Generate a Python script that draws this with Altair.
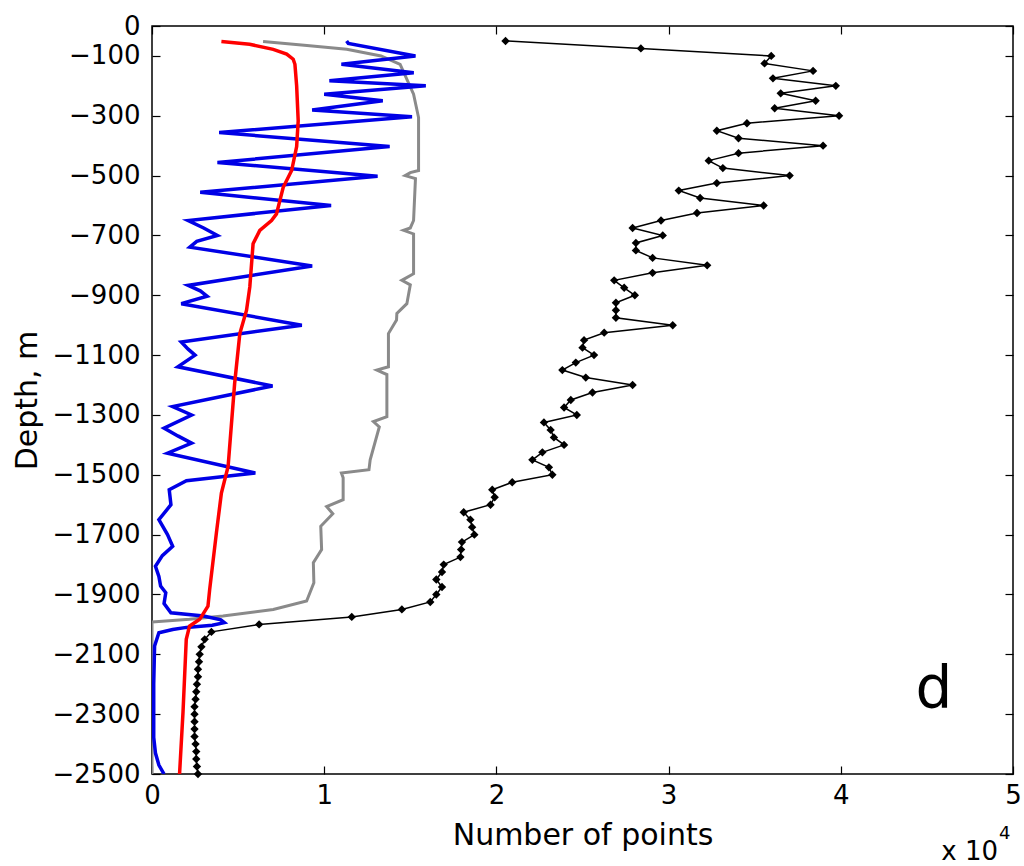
import altair as alt
import pandas as pd

# ---- data (depth in m, value in number of points) ----
black_depth = list(range(50, 2501, 25))
black_val = [2.053, 2.839, 3.596, 3.557, 3.839, 3.606, 3.971, 3.651, 3.854, 3.616,
             3.990, 3.455, 3.280, 3.406, 3.897, 3.406, 3.233, 3.315, 3.703, 3.280,
             3.059, 3.183, 3.552, 3.165, 2.956, 2.791, 2.966, 2.810, 2.810, 2.907,
             3.224, 2.907, 2.684, 2.742, 2.804, 2.694, 2.694, 2.694, 3.024, 2.626,
             2.509, 2.500, 2.567, 2.461, 2.383, 2.519, 2.791, 2.558, 2.432, 2.393,
             2.467, 2.276, 2.315, 2.334, 2.393, 2.267, 2.209, 2.305, 2.325, 2.092,
             1.976, 1.990, 1.966, 1.810, 1.849, 1.859, 1.872, 1.800, 1.795, 1.791,
             1.694, 1.684, 1.651, 1.684, 1.651, 1.616, 1.451, 1.160, 0.622, 0.345,
             0.306, 0.287, 0.277, 0.273, 0.267, 0.267, 0.261, 0.257, 0.253, 0.247,
             0.247, 0.247, 0.247, 0.247, 0.253, 0.257, 0.257, 0.261, 0.267]

gray_depth = [52, 65, 78, 100, 128, 228, 306, 483, 490, 500, 510, 650, 675, 683, 695,
              828, 850, 865, 928, 961, 983, 1028, 1139, 1150, 1165, 1306, 1322, 1340,
              1450, 1483, 1494, 1510, 1583, 1606, 1630, 1672, 1750, 1794, 1861, 1922,
              1950, 1972, 1983, 1992, 2500]
gray_val = [0.645, 0.90, 1.131, 1.33, 1.441, 1.519, 1.548, 1.548, 1.50, 1.47, 1.53,
            1.519, 1.50, 1.461, 1.519, 1.519, 1.451, 1.50, 1.48, 1.422, 1.42, 1.373,
            1.373, 1.306, 1.364, 1.364, 1.286, 1.32, 1.267, 1.26, 1.10, 1.11, 1.11,
            1.014, 1.05, 0.98, 0.985, 0.937, 0.94, 0.898, 0.704, 0.412, 0.218, 0.0, 0.0]

red_depth = [52, 61, 78, 94, 111, 128, 200, 317, 403, 483, 539, 628, 650, 683, 728,
             872, 950, 1028, 1194, 1472, 1561, 1694, 1883, 1939, 1983, 2006, 2050,
             2294, 2500]
red_val = [0.403, 0.567, 0.704, 0.782, 0.82, 0.830, 0.84, 0.849, 0.84, 0.811, 0.762,
           0.723, 0.694, 0.626, 0.587, 0.568, 0.549, 0.510, 0.480, 0.442, 0.403,
           0.374, 0.335, 0.325, 0.277, 0.218, 0.199, 0.180, 0.160]

blue_depth = [50, 58, 100, 128, 156, 183, 200, 228, 250, 281, 303, 356, 403, 456,
              502, 556, 600, 650, 675, 700, 720, 739, 802, 867, 885, 903, 928, 1000,
              1056, 1080, 1100, 1139, 1203, 1272, 1300, 1344, 1370, 1394, 1428, 1494,
              1520, 1550, 1600, 1650, 1700, 1739, 1770, 1806, 1840, 1872, 1894, 1930,
              1961, 1972, 1985, 1994, 2003, 2010, 2017, 2028, 2072, 2200, 2378, 2430,
              2470, 2500]
blue_val = [1.13, 1.14, 1.53, 1.10, 1.52, 1.03, 1.59, 1.00, 1.34, 0.93, 1.51, 0.39,
            1.38, 0.38, 1.31, 0.28, 1.04, 0.21, 0.30, 0.38, 0.26, 0.22, 0.93, 0.21,
            0.28, 0.32, 0.17, 0.87, 0.17, 0.21, 0.25, 0.15, 0.70, 0.12, 0.23, 0.07,
            0.15, 0.23, 0.09, 0.60, 0.20, 0.10, 0.11, 0.04, 0.09, 0.12, 0.06, 0.02,
            0.04, 0.05, 0.08, 0.07, 0.11, 0.30, 0.40, 0.42, 0.35, 0.20, 0.12, 0.04,
            0.015, 0.01, 0.01, 0.02, 0.04, 0.07]

x_ticks = [0, 10000, 20000, 30000, 40000, 50000]
y_ticks = [0, -100, -300, -500, -700, -900, -1100, -1300, -1500, -1700, -1900,
           -2100, -2300, -2500]

SCALE = 10000
FONT = "DejaVu Sans"


def frame(depth, val):
    return pd.DataFrame({"k": range(len(depth)),
                         "y": [-d for d in depth],
                         "x": [v * SCALE for v in val]})


xs = alt.Scale(domain=[0, 50000], nice=False, zero=False)
ys = alt.Scale(domain=[-2500, 0], nice=False, zero=False)

x_axis = alt.Axis(values=x_ticks, labelExpr="datum.value / 10000", title="Number of points",
                  grid=False, domain=False, tickSize=8, offset=-8, tickColor="black",
                  tickWidth=1.2, labelFont=FONT, labelFontSize=26, labelColor="black",
                  labelPadding=8, labelFlush=False, titleFont=FONT, titleFontSize=30,
                  titleFontWeight="normal", titleColor="black", titlePadding=12)
y_axis = alt.Axis(values=y_ticks, format="d", title="Depth, m", grid=False, domain=False,
                  tickSize=8, offset=-8, tickColor="black", tickWidth=1.2, labelFont=FONT,
                  labelFontSize=26, labelColor="black", labelPadding=12, labelFlush=False,
                  labelOverlap=False, titleFont=FONT, titleFontSize=30,
                  titleFontWeight="normal", titleColor="black", titlePadding=10)


def enc_x():
    return alt.X("x:Q", scale=xs, axis=x_axis)


def enc_y():
    return alt.Y("y:Q", scale=ys, axis=y_axis)


def line(df, color, width):
    return alt.Chart(df).mark_line(color=color, strokeWidth=width, clip=True).encode(
        x=enc_x(), y=enc_y(), order="k:Q")


gray = line(frame(gray_depth, gray_val), "#8a8a8a", 3)
red = line(frame(red_depth, red_val), "#ff0000", 3.5)
blue = line(frame(blue_depth, blue_val), "#0000e6", 3.5)
bdf = frame(black_depth, black_val)
black = line(bdf, "black", 1.5)
pts = alt.Chart(bdf).mark_point(shape="diamond", filled=True, color="black", size=70,
                                opacity=1).encode(x=enc_x(), y=enc_y())

inner = alt.layer(gray, blue, red, black, pts)

letter = alt.Chart(pd.DataFrame({"t": ["d"]})).mark_text(
    font=FONT, fontSize=58, color="black", align="center", baseline="alphabetic").encode(
    text="t:N", x=alt.value(782), y=alt.value(682))
exp_a = alt.Chart(pd.DataFrame({"t": ["x 10"]})).mark_text(
    font=FONT, fontSize=26, color="black", align="right", baseline="alphabetic").encode(
    text="t:N", x=alt.value(846), y=alt.value(834))
exp_b = alt.Chart(pd.DataFrame({"t": ["4"]})).mark_text(
    font=FONT, fontSize=18, color="black", align="left", baseline="alphabetic").encode(
    text="t:N", x=alt.value(847), y=alt.value(813))

mirror = alt.Chart(bdf).mark_point(opacity=0).encode(
    x=alt.X("x:Q", scale=xs, axis=alt.Axis(orient="top", values=x_ticks, labels=False,
                                            title=None, grid=False, domain=False, tickSize=8,
                                            offset=-8, tickColor="black", tickWidth=1.2)),
    y=alt.Y("y:Q", scale=ys, axis=alt.Axis(orient="right", values=y_ticks, labels=False,
                                            title=None, grid=False, domain=False, tickSize=8,
                                            offset=-8, tickColor="black", tickWidth=1.2)),
)

chart = alt.layer(inner, mirror, letter, exp_a, exp_b).resolve_axis(
    x="independent", y="independent").properties(
    width=861, height=748,
    autosize=alt.AutoSizeParams(type="none"),
    padding={"left": 152, "top": 26, "right": 11, "bottom": 92},
    background="white",
).configure_view(stroke="black", strokeWidth=1.5)

chart.save("out.html", embed_options={"renderer": "svg", "actions": False})
